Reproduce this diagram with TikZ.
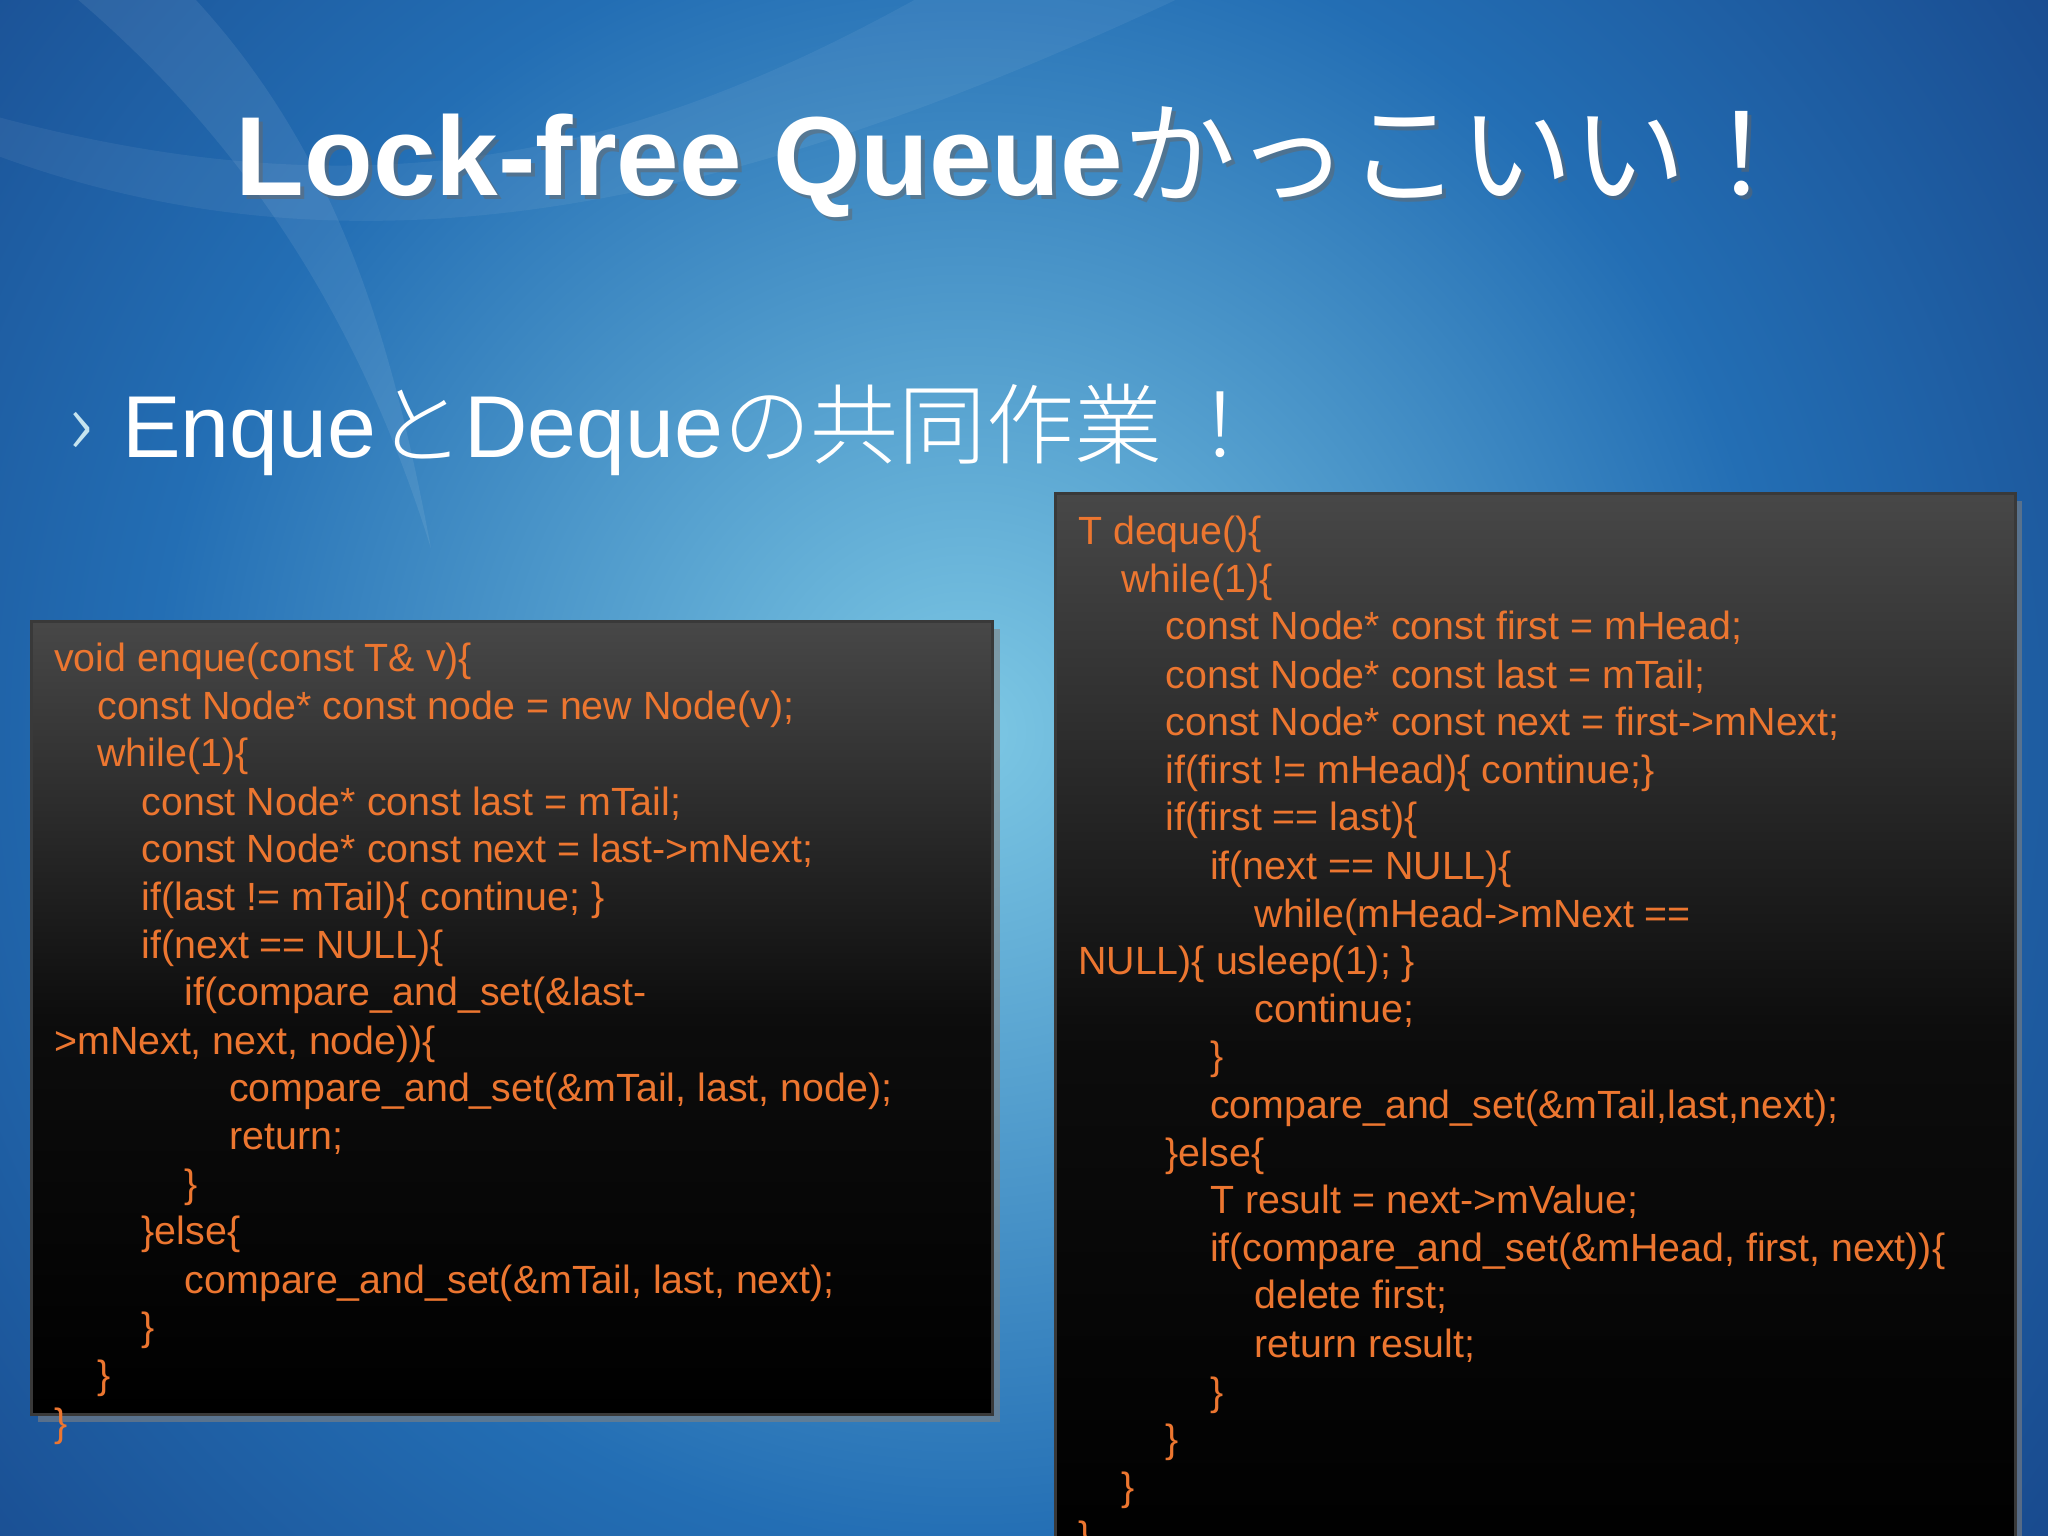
\documentclass[tikz,border=0pt]{standalone}
\usepackage{fontspec}
\setmainfont{Liberation Sans}
\newfontfamily\jp{Noto Sans CJK JP}
\newfontfamily\jpl{Noto Sans CJK JP Light}
\usetikzlibrary{shadows}
\definecolor{codeor}{RGB}{236,118,48}
\definecolor{bgc1}{RGB}{125,200,228}
\definecolor{bgc2}{RGB}{35,110,180}
\definecolor{bgc3}{RGB}{12,30,95}
\pgfdeclareradialshading{bgsh}{\pgfpoint{0bp}{0bp}}{color(0bp)=(bgc1); color(13bp)=(bgc2); color(32bp)=(bgc3); color(50bp)=(bgc3)}
\tikzset{
  code/.style={anchor=base west, inner sep=0pt, text=codeor, font=\fontsize{11.2}{13.6}\selectfont},
  codebox/.style={draw=gray!45!black, line width=1pt, top color=black!72, bottom color=black, middle color=black!95, drop shadow={opacity=0.6, shadow xshift=2pt, shadow yshift=-2pt}},
}
\begin{document}
\begin{tikzpicture}[x=0.013061cm, y=-0.013061cm]
\useasboundingbox (0,0) rectangle (1568,1176);
\fill[bgc3] (0,0) rectangle (1568,1176);
\begin{scope}
\clip (0,0) rectangle (1568,1176);
\shade[shading=bgsh] (740,560) circle (1200);
\fill[white, opacity=0.08] (150,0) .. controls (260,120) and (300,260) .. (330,420) .. controls (280,260) and (200,120) .. (60,0) -- cycle;
\fill[white, opacity=0.06] (0,120) .. controls (300,230) and (600,140) .. (900,0) -- (700,0) .. controls (500,110) and (300,170) .. (0,90) -- cycle;
\end{scope}
% title
\node[anchor=base west, inner sep=0pt, text=black!60, opacity=0.5, font=\fontsize{32}{40}\selectfont\bfseries] (tsh) at (183,153) {Lock-free Queue{\jp\mdseries かっこいい！}};
\node[anchor=base west, inner sep=0pt, text=white, font=\fontsize{32}{40}\selectfont\bfseries] (title) at (180,150) {Lock-free Queue{\jp\mdseries かっこいい！}};
% subtitle
\node[anchor=base west, inner sep=0pt, text=gray!40!cyan!30, font=\fontsize{25}{30}\selectfont] (bul) at (52,348) {\jpl ›};
\node[anchor=base west, inner sep=0pt, text=white, font=\fontsize{25}{30}\selectfont] (sub) at (93,350) {Enque{\jpl と}Deque{\jpl の共同作業\,！}};
% boxes
\draw[codebox] (24,476) rectangle (760,1083);
\draw[codebox] (808,378) rectangle (1543,1200);
% enque
\node[code] (e1) at (41,514) {void enque(const T\& v)\{};
\node[code] (e2) at (74,551) {const Node* const node = new Node(v);};
\node[code] (e3) at (74,587) {while(1)\{};
\node[code] (e4) at (108,624) {const Node* const last = mTail;};
\node[code] (e5) at (108,660) {const Node* const next = last->mNext;};
\node[code] (e6) at (108,697) {if(last != mTail)\{ continue; \}};
\node[code] (e7) at (108,734) {if(next == NULL)\{};
\node[code] (e8) at (141,770) {if(compare\_and\_set(\&last-};
\node[code] (e9) at (41,807) {>mNext, next, node))\{};
\node[code] (e10) at (175,843) {compare\_and\_set(\&mTail, last, node);};
\node[code] (e11) at (175,880) {return;};
\node[code] (e12) at (141,917) {\}};
\node[code] (e13) at (108,953) {\}else\{};
\node[code] (e14) at (141,990) {compare\_and\_set(\&mTail, last, next);};
\node[code] (e15) at (108,1026) {\}};
\node[code] (e16) at (74,1063) {\}};
\node[code] (e17) at (41,1100) {\}};
% deque
\node[code] (d1) at (825,417) {T deque()\{};
\node[code] (d2) at (858,454) {while(1)\{};
\node[code] (d3) at (892,490) {const Node* const first = mHead;};
\node[code] (d4) at (892,527) {const Node* const last = mTail;};
\node[code] (d5) at (892,563) {const Node* const next = first->mNext;};
\node[code] (d6) at (892,600) {if(first != mHead)\{ continue;\}};
\node[code] (d7) at (892,636) {if(first == last)\{};
\node[code] (d8) at (926,673) {if(next == NULL)\{};
\node[code] (d9) at (960,710) {while(mHead->mNext ==};
\node[code] (d10) at (825,746) {NULL)\{ usleep(1); \}};
\node[code] (d11) at (960,783) {continue;};
\node[code] (d12) at (926,819) {\}};
\node[code] (d13) at (926,856) {compare\_and\_set(\&mTail,last,next);};
\node[code] (d14) at (892,893) {\}else\{};
\node[code] (d15) at (926,929) {T result = next->mValue;};
\node[code] (d16) at (926,966) {if(compare\_and\_set(\&mHead, first, next))\{};
\node[code] (d17) at (960,1002) {delete first;};
\node[code] (d18) at (960,1039) {return result;};
\node[code] (d19) at (926,1076) {\}};
\node[code] (d20) at (892,1112) {\}};
\node[code] (d21) at (858,1149) {\}};
\node[code] (d22) at (825,1186) {\}};
\end{tikzpicture}
\end{document}
